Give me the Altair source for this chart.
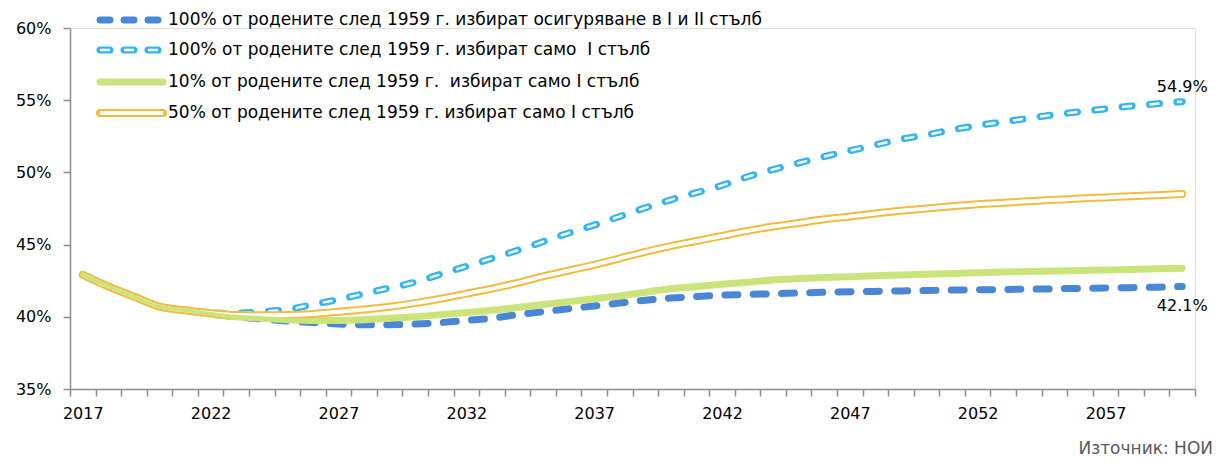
import altair as alt
import pandas as pd

years = list(range(2017, 2061))

s_db = [42.9, 42.1, 41.4, 40.7,
        40.45, 40.2, 40.0, 39.85, 39.7, 39.6, 39.5, 39.45, 39.45, 39.5,
        39.6, 39.75, 39.9, 40.15, 40.35, 40.55, 40.75, 40.95, 41.15, 41.3,
        41.4, 41.5, 41.55, 41.6, 41.65, 41.7, 41.73, 41.76, 41.79, 41.82,
        41.85, 41.87, 41.89, 41.91, 41.94, 41.97, 41.99, 42.02, 42.05, 42.1]
s_lb = [42.9, 42.1, 41.4, 40.7,
        40.45, 40.25, 40.25, 40.35, 40.5, 40.85, 41.2, 41.6, 42.0, 42.4,
        42.95, 43.5, 44.05, 44.6, 45.2, 45.8, 46.35, 46.95, 47.55, 48.1,
        48.6, 49.1, 49.7, 50.2, 50.65, 51.1, 51.5, 51.9, 52.3, 52.6,
        52.95, 53.25, 53.5, 53.75, 54.0, 54.2, 54.4, 54.6, 54.75, 54.9]
s_gr = [42.9, 42.1, 41.4, 40.7,
        40.45, 40.2, 40.0, 39.9, 39.8, 39.75, 39.75, 39.8, 39.9, 40.0,
        40.15, 40.3, 40.45, 40.65, 40.85, 41.05, 41.25, 41.45, 41.7, 41.95,
        42.1, 42.25, 42.4, 42.55, 42.65, 42.72, 42.78, 42.84, 42.9, 42.95,
        43.0, 43.05, 43.1, 43.13, 43.17, 43.2, 43.24, 43.28, 43.32, 43.36]
s_or = [42.9, 42.1, 41.4, 40.7,
        40.45, 40.25, 40.12, 40.1, 40.12, 40.2, 40.35, 40.5, 40.7, 40.95,
        41.25, 41.6, 41.95, 42.35, 42.8, 43.2, 43.6, 44.05, 44.5, 44.9,
        45.25, 45.6, 45.95, 46.25, 46.5, 46.75, 46.95, 47.15, 47.35, 47.5,
        47.65, 47.8, 47.9, 48.0, 48.1, 48.2, 48.27, 48.35, 48.42, 48.5]

names = [
    "100% от родените след 1959 г. избират осигуряване в I и II стълб",
    "100% от родените след 1959 г. избират само \u00a0I стълб",
    "10% от родените след 1959 г. \u00a0избират само I стълб",
    "50% от родените след 1959 г. избират само I стълб",
]
keys = ["db", "lb", "gr", "or"]
colors = {"db": "#4A86D6", "lb": "#33B4F6", "gr": "#CBE37B", "or": "#F5B93E"}
source_text = "Източник: НОИ"
y_ticks = [35, 40, 45, 50, 55, 60]

rows = []
for k, s in zip(keys, [s_db, s_lb, s_gr, s_or]):
    for yr, v in zip(years, s):
        rows.append({"year": yr, "v": v, "s": k})
df = pd.DataFrame(rows)

FONT = "DejaVu Sans"
FS = 16
W, H = 1125, 361

xscale = alt.Scale(domain=[years[0] - 0.5, years[-1] + 0.5], nice=False, zero=False)
yscale = alt.Scale(domain=[y_ticks[0], y_ticks[-1]], nice=False, zero=False)

band = W / len(years)
x_axis = alt.Axis(
    values=[y - 0.5 for y in years] + [years[-1] + 0.5],
    labelExpr="(datum.value - 2016.5) % 5 == 0 && datum.value < 2060 ? format(datum.value + 0.5, 'd') : ''",
    labelOffset=band / 2, labelFlush=False, labelOverlap=False,
    tickSize=7, tickColor="#8C8C8C", tickWidth=1.5,
    domainColor="#8C8C8C", domainWidth=1.5, grid=False, title=None,
    labelFontSize=FS, labelFont=FONT, labelColor="#000000", labelPadding=9,
)
y_axis = alt.Axis(
    values=y_ticks, labelExpr="datum.value + '%'",
    tickSize=7, tickColor="#8C8C8C", tickWidth=1.5,
    domainColor="#8C8C8C", domainWidth=1.5, grid=False, title=None,
    labelFontSize=FS, labelFont=FONT, labelColor="#000000", labelPadding=12,
)

base = alt.Chart(df)
X = alt.X("year:Q", scale=xscale, axis=x_axis)
Y = alt.Y("v:Q", scale=yscale, axis=y_axis)


def line(key, width, color, dash=None, cap="round"):
    kw = dict(strokeWidth=width, color=color, interpolate="monotone", strokeCap=cap)
    if dash:
        kw["strokeDash"] = dash
    return base.transform_filter(alt.datum.s == key).mark_line(**kw).encode(x=X, y=Y)


layers = [
    line("db", 7, colors["db"], [13, 15.3]),
    line("lb", 7, colors["lb"], [10, 17.5]),
    line("lb", 2.5, "white", [10, 17.5], cap="butt"),
    line("gr", 7, colors["gr"]),
    line("or", 8, colors["or"]),
    line("or", 4, "white"),
    line("gr", 4, colors["gr"]),
]


def end_label(key, dy):
    return base.transform_filter(
        (alt.datum.s == key) & (alt.datum.year == years[-1])
    ).transform_calculate(
        lab="format(datum.v, '.1f') + '%'"
    ).mark_text(font=FONT, fontSize=FS, color="#000000", dy=dy, align="center").encode(
        x=X, y=Y, text="lab:N",
    )


layers += [end_label("lb", -15), end_label("db", 20)]

# legend
one = pd.DataFrame({"a": [0]})
leg_y = [-8, 22, 54, 85]
x0, x1, xt = 30, 93, 98
for i, k in enumerate(keys):
    y = leg_y[i]
    enc = dict(x=alt.value(x0), x2=alt.value(x1), y=alt.value(y))
    if k in ("db", "lb"):
        layers.append(alt.Chart(one).mark_rule(color=colors[k], strokeWidth=7, strokeCap="round", strokeDash=[10, 14]).encode(**enc))
        if k == "lb":
            layers.append(alt.Chart(one).mark_rule(color="white", strokeWidth=2.5, strokeCap="butt", strokeDash=[10, 14]).encode(**enc))
    elif k == "gr":
        layers.append(alt.Chart(one).mark_rule(color=colors[k], strokeWidth=7, strokeCap="round").encode(**enc))
    else:
        layers.append(alt.Chart(one).mark_rule(color=colors[k], strokeWidth=8, strokeCap="round").encode(**enc))
        layers.append(alt.Chart(one).mark_rule(color="white", strokeWidth=4, strokeCap="butt").encode(**enc))
    layers.append(
        alt.Chart(one).mark_text(font=FONT, fontSize=17, color="#000000", align="left", baseline="middle").encode(
            x=alt.value(xt), y=alt.value(y), text=alt.value(names[i])
        )
    )

layers.append(
    alt.Chart(one).mark_text(font=FONT, fontSize=17, color="#595959", align="right", baseline="middle").encode(
        x=alt.value(1143), y=alt.value(421), text=alt.value(source_text)
    )
)

chart = alt.layer(*layers).properties(
    width=W, height=H,
    padding={"left": 62, "top": 20, "right": 19, "bottom": 70},
    autosize=alt.AutoSizeParams(type="none"),
).configure_view(strokeWidth=0).configure(background="white")

chart.save("out.html", embed_options={"renderer": "svg", "actions": False})
